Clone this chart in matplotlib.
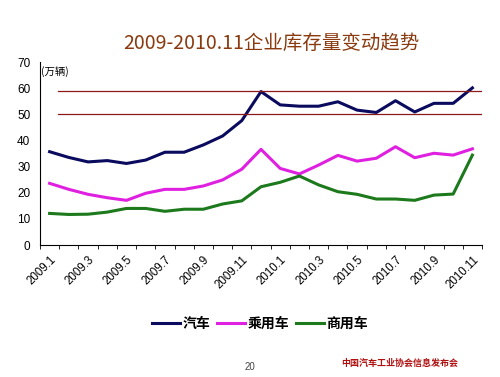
import numpy as np
import matplotlib.pyplot as plt

plt.rcParams['font.family'] = ['Noto Sans CJK SC', 'DejaVu Sans']

months = ['2009.%d' % m for m in range(1, 13)] + ['2010.%d' % m for m in range(1, 12)]
qiche = [35.7, 33.5, 31.8, 32.3, 31.2, 32.5, 35.5, 35.5, 38.3, 41.7, 47.6,
         58.7, 53.6, 53.1, 53.1, 54.8, 51.6, 50.7, 55.2, 50.9, 54.2, 54.2, 60.1]
chengyong = [23.6, 21.3, 19.4, 18.1, 17.1, 19.8, 21.3, 21.3, 22.6, 24.9, 29.0,
             36.6, 29.3, 27.2, 30.6, 34.3, 32.1, 33.2, 37.6, 33.4, 35.1, 34.4, 36.8]
shangyong = [12.1, 11.7, 11.8, 12.6, 14.0, 14.0, 12.9, 13.7, 13.7, 15.7, 16.9,
             22.3, 24.0, 26.4, 23.0, 20.4, 19.4, 17.6, 17.6, 17.1, 19.1, 19.5, 34.4]
ref_lines = [59, 50]

fig = plt.figure(figsize=(5, 3.77), dpi=100)
ax = fig.add_axes([0.08, 0.35, 0.884, 0.4855])

x = np.arange(len(months))
ax.plot(x, qiche, color='#0a0a5e', lw=2.2, label='汽车')
ax.plot(x, chengyong, color='#e020e0', lw=2.2, label='乘用车')
ax.plot(x, shangyong, color='#1c7a1c', lw=2.2, label='商用车')
for v in ref_lines:
    ax.plot([0.45, 22.5], [v, v], color='#8b1a1a', lw=0.9)

ax.set_xlim(-0.5, len(months) - 0.5)
ax.set_ylim(0, 70)
ax.set_yticks(range(0, 71, 10))
ax.set_xticks(x[::2])
ax.set_xticklabels(months[::2], rotation=45, ha='right', rotation_mode='anchor',
                   fontsize=8.3, family=['Liberation Sans'])
ax.set_xticks(np.arange(-0.5, len(months), 1), minor=True)
ax.tick_params(axis='x', which='major', length=0, pad=6)
ax.tick_params(axis='x', which='minor', length=3)
ax.tick_params(axis='y', length=0, labelsize=8.5, pad=7)
for lab in ax.get_yticklabels():
    lab.set_family(['Liberation Sans'])
for s in ['top', 'right']:
    ax.spines[s].set_visible(False)

ax.text(0.003, 0.95, '(万辆)', transform=ax.transAxes, fontsize=7.5, va='center')

fig.text(0.542, 0.885, '2009-2010.11企业库存量变动趋势', ha='center', va='center',
         fontsize=14, color='#8b3a0f')

fig.legend(loc='center', bbox_to_anchor=(0.52, 0.14), ncol=3, frameon=False,
           handlelength=2.0, handletextpad=0.2, columnspacing=0.5,
           prop={'size': 10, 'weight': 'bold'})

fig.text(0.5, 0.027, '20', ha='center', va='center', fontsize=7, color='#444444',
         family=['Liberation Sans'])
fig.text(0.8, 0.035, '中国汽车工业协会信息发布会', ha='center', va='center',
         fontsize=6.5, color='#b01010', weight='bold')

fig.savefig('out.png', dpi=100)
